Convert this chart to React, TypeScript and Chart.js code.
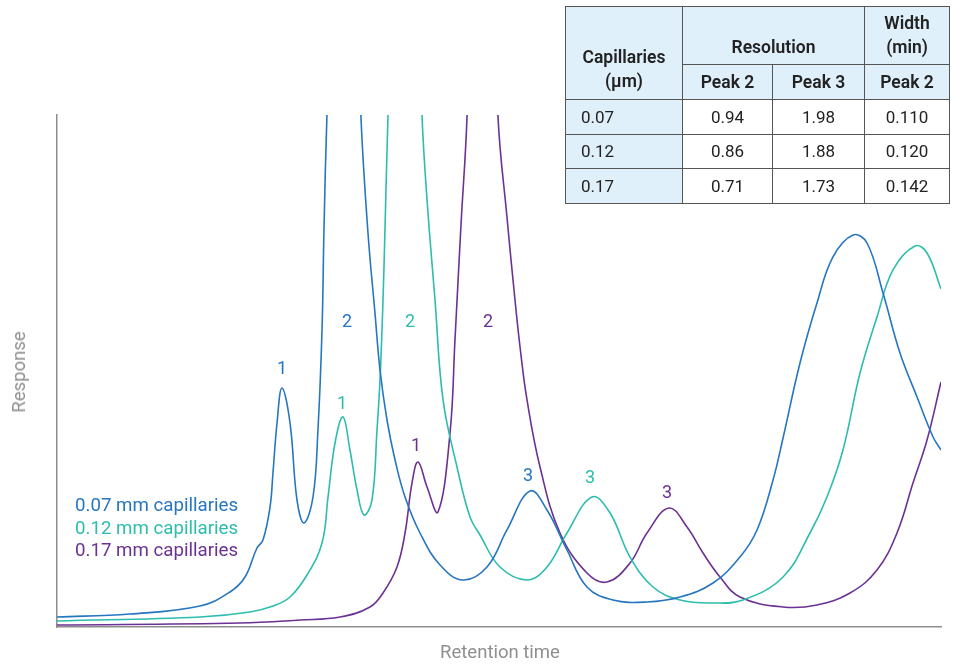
import React, { useEffect, useRef } from "react";
import { Chart, registerables } from "chart.js";
Chart.register(...registerables);

// Retention time (arbitrary units 0-10) and response (0-100 = top of plot; peaks 2 run off-scale)
const timeBlue = [0, 0.826, 1.618, 1.957, 2.127, 2.262, 2.33, 2.41, 2.443, 2.489, 2.545, 2.636, 2.715, 2.794, 2.896, 2.952, 2.998, 3.02, 3.054, 3.156, 3.247, 3.337, 3.439, 3.518, 3.597, 3.654, 3.733, 3.824, 3.937, 4.106, 4.333, 4.593, 4.864, 5.09, 5.351, 5.543, 5.769, 5.995, 6.29, 6.674, 7.048, 7.421, 7.726, 7.919, 8.1, 8.213, 8.405, 8.597, 8.778, 9.005, 9.163, 9.344, 9.536, 9.729, 9.91, 10];
const respBlue = [1.95, 2.54, 4.1, 6.84, 9.77, 15.43, 16.99, 23.44, 30.08, 39.84, 46.68, 39.84, 24.8, 20.31, 25.39, 38.48, 58.01, 77.54, 100.2, 150, 175, 150, 99.4, 76.95, 61.33, 50.2, 40.43, 32.62, 25.39, 18.36, 12.11, 9.18, 11.72, 18.95, 26.56, 22.85, 15.04, 7.81, 5.27, 4.88, 5.86, 8.59, 13.67, 18.95, 28.71, 36.91, 51.56, 63.28, 72.27, 76.56, 75.0, 65.23, 53.52, 44.92, 37.11, 34.57];

const timeTeal = [0, 1.618, 2.183, 2.443, 2.636, 2.828, 2.998, 3.066, 3.145, 3.235, 3.314, 3.394, 3.473, 3.563, 3.62, 3.654, 3.688, 3.71, 3.744, 3.835, 3.937, 4.027, 4.129, 4.186, 4.276, 4.367, 4.525, 4.672, 4.785, 5.011, 5.317, 5.543, 5.769, 6.052, 6.256, 6.482, 6.742, 7.048, 7.421, 7.76, 8.213, 8.518, 8.71, 8.891, 9.084, 9.276, 9.457, 9.706, 9.842, 10];
const respTeal = [1.17, 1.95, 2.93, 4.1, 5.86, 10.16, 16.41, 25.39, 35.94, 41.02, 34.57, 26.76, 21.88, 24.8, 38.48, 48.24, 63.87, 77.54, 99.8, 150, 175, 150, 99.8, 83.4, 63.87, 44.34, 31.25, 21.48, 17.97, 11.72, 9.18, 11.72, 18.36, 25.39, 22.27, 13.67, 7.81, 5.27, 4.69, 5.27, 9.77, 18.36, 25.39, 34.57, 49.61, 60.55, 69.73, 74.41, 73.05, 66.02];

const timePurple = [0, 2.07, 2.749, 3.201, 3.541, 3.688, 3.846, 3.937, 4.016, 4.084, 4.186, 4.31, 4.446, 4.502, 4.57, 4.638, 4.717, 4.808, 4.898, 4.989, 5.09, 5.181, 5.238, 5.317, 5.464, 5.69, 5.995, 6.222, 6.482, 6.674, 6.923, 7.127, 7.308, 7.5, 7.726, 8.213, 8.597, 8.971, 9.276, 9.502, 9.683, 9.842, 10];
const respPurple = [0.39, 0.78, 1.37, 1.95, 3.91, 6.64, 11.72, 18.36, 28.13, 32.23, 27.34, 22.46, 37.89, 56.05, 78.52, 99.6, 150, 175, 150, 99.6, 80.08, 63.87, 54.69, 44.34, 31.25, 18.36, 10.55, 8.79, 12.5, 18.36, 23.24, 19.53, 14.45, 9.77, 5.86, 3.91, 4.3, 6.64, 11.13, 18.36, 28.13, 36.52, 47.85];

const seriesNames = ["0.07 mm capillaries", "0.12 mm capillaries", "0.17 mm capillaries"];
const seriesColors = ["#2776c0", "#2dbdae", "#6b3193"];

// Peak labels: series index, label, retention time, response
const peakSeries = [0, 1, 2, 0, 1, 2, 0, 1, 2];
const peakText = ["1", "1", "1", "2", "2", "2", "3", "3", "3"];
const peakTime = [2.545, 3.224, 4.061, 3.281, 3.993, 4.876, 5.328, 6.029, 6.9];
const peakResp = [50.2, 43.55, 35.35, 59.38, 59.38, 59.38, 29.49, 29.1, 25.98];

// Table
const tableCapillaries = ["0.07", "0.12", "0.17"];
const tableResPeak2 = ["0.94", "0.86", "0.71"];
const tableResPeak3 = ["1.98", "1.88", "1.73"];
const tableWidthPeak2 = ["0.110", "0.120", "0.142"];

const FONT = "Roboto, 'Noto Sans', sans-serif";

function toPoints(t: number[], r: number[]) {
  return t.map((x, i) => ({ x, y: r[i] }));
}

const peakLabelPlugin = {
  id: "peakLabels",
  afterDatasetsDraw(chart: any) {
    const { ctx, scales } = chart;
    ctx.save();
    ctx.font = `18px ${FONT}`;
    ctx.textAlign = "center";
    ctx.textBaseline = "middle";
    peakText.forEach((txt, i) => {
      ctx.fillStyle = seriesColors[peakSeries[i]];
      ctx.fillText(txt, scales.x.getPixelForValue(peakTime[i]), scales.y.getPixelForValue(peakResp[i]));
    });
    ctx.restore();
  },
};

export default function App() {
  const ref = useRef<HTMLCanvasElement>(null);
  useEffect(() => {
    if (!ref.current) return;
    const series = [
      toPoints(timeBlue, respBlue),
      toPoints(timeTeal, respTeal),
      toPoints(timePurple, respPurple),
    ];
    const chart = new Chart(ref.current, {
      type: "line",
      data: {
        datasets: series.map((d, i) => ({
          label: seriesNames[i],
          data: d,
          borderColor: seriesColors[i],
          borderWidth: 1.6,
          pointRadius: 0,
          fill: false,
          tension: 0.4,
        })),
      },
      options: {
        animation: false,
        responsive: false,
        layout: { padding: { left: 57, right: 20, top: 115, bottom: 37 } },
        plugins: { legend: { display: false }, tooltip: { enabled: false } },
        scales: {
          x: {
            type: "linear",
            min: 0,
            max: 10,
            ticks: { display: false },
            grid: { display: false },
            border: { color: "#8e8e8e", width: 1.5 },
            afterFit: (s: any) => { s.height = 0; },
          },
          y: {
            type: "linear",
            min: 0,
            max: 100,
            ticks: { display: false },
            grid: { display: false },
            border: { color: "#8e8e8e", width: 1.5 },
            afterFit: (s: any) => { s.width = 0; },
          },
        },
      } as any,
      plugins: [peakLabelPlugin],
    });
    return () => chart.destroy();
  }, []);

  const hdr: React.CSSProperties = {
    background: "#dff0fa",
    border: "1px solid #555",
    fontWeight: 600,
    fontSize: 17.5,
    textAlign: "center",
    padding: "0 2px",
  };
  const cell: React.CSSProperties = {
    border: "1px solid #555",
    textAlign: "center",
    padding: 0,
    background: "#fff",
  };

  return (
    <div style={{ position: "absolute", left: 0, top: 0, width: 961, height: 664, background: "#fff", fontFamily: FONT }}>
      <canvas ref={ref} width={961} height={664} style={{ position: "absolute", left: 0, top: 0 }} />
      <div style={{ position: "absolute", left: 500, top: 652, color: "#8f8f8f", fontSize: 18.5, whiteSpace: "nowrap", transform: "translate(-50%, -50%)" }}>
        Retention time
      </div>
      <div style={{ position: "absolute", left: 19, top: 372, color: "#8f8f8f", fontSize: 18.5, whiteSpace: "nowrap", transform: "translate(-50%, -50%) rotate(-90deg)" }}>
        Response
      </div>
      {seriesNames.map((n, i) => (
        <div key={n} style={{ position: "absolute", left: 75, top: 493 + i * 22.5, color: seriesColors[i], fontSize: 18.7, lineHeight: "24px", whiteSpace: "nowrap" }}>
          {n}
        </div>
      ))}
      <table style={{ position: "absolute", left: 565, top: 6, width: 384, height: 197, borderCollapse: "collapse", fontSize: 17, color: "#222", tableLayout: "fixed" }}>
        <colgroup>
          <col style={{ width: 117 }} />
          <col style={{ width: 90 }} />
          <col style={{ width: 92 }} />
          <col style={{ width: 85 }} />
        </colgroup>
        <tbody>
          <tr style={{ height: 58 }}>
            <td rowSpan={2} style={{ ...hdr, verticalAlign: "bottom", paddingBottom: 6, lineHeight: "24px" }}>Capillaries<br />(µm)</td>
            <td colSpan={2} style={{ ...hdr, verticalAlign: "bottom", paddingBottom: 5, lineHeight: "24px" }}>Resolution</td>
            <td style={{ ...hdr, verticalAlign: "bottom", paddingBottom: 5, lineHeight: "24px" }}>Width<br />(min)</td>
          </tr>
          <tr style={{ height: 35 }}>
            <td style={hdr}>Peak 2</td>
            <td style={hdr}>Peak 3</td>
            <td style={hdr}>Peak 2</td>
          </tr>
          {tableCapillaries.map((c, i) => (
            <tr key={c} style={{ height: 34.5 }}>
              <td style={{ ...cell, background: "#dff0fa", textAlign: "left", paddingLeft: 15 }}>{c}</td>
              <td style={cell}>{tableResPeak2[i]}</td>
              <td style={cell}>{tableResPeak3[i]}</td>
              <td style={cell}>{tableWidthPeak2[i]}</td>
            </tr>
          ))}
        </tbody>
      </table>
    </div>
  );
}
